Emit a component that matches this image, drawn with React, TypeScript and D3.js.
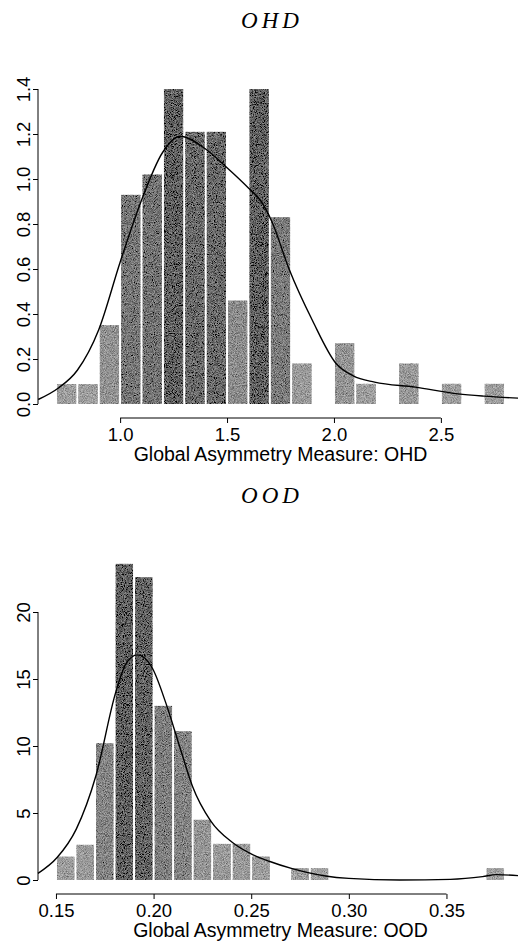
import { useEffect, useRef } from 'react';
import * as d3 from 'd3';

// OHD histogram: lower bin edges (width 0.1) and density heights
const ohdBins = [0.7, 0.8, 0.9, 1.0, 1.1, 1.2, 1.3, 1.4, 1.5, 1.6, 1.7, 1.8, 1.9, 2.0, 2.1, 2.2, 2.3, 2.4, 2.5, 2.6, 2.7];
const ohdDensity = [0.088, 0.088, 0.35, 0.93, 1.02, 1.4, 1.21, 1.21, 0.46, 1.4, 0.83, 0.18, 0, 0.27, 0.09, 0, 0.18, 0, 0.09, 0, 0.09];
// OHD density curve
const ohdCurveX = [0.617, 0.71, 0.8, 0.9, 1.0, 1.09, 1.2, 1.28, 1.39, 1.5, 1.6, 1.66, 1.71, 1.79, 1.9, 2.01, 2.09, 2.19, 2.38, 2.58, 2.7, 2.884];
const ohdCurveY = [0.02, 0.07, 0.15, 0.33, 0.63, 0.88, 1.12, 1.19, 1.14, 1.05, 0.96, 0.9, 0.81, 0.6, 0.37, 0.18, 0.125, 0.097, 0.075, 0.045, 0.035, 0.025];
const ohdTicksX = [1.0, 1.5, 2.0, 2.5];
const ohdTicksY = [0, 0.2, 0.4, 0.6, 0.8, 1.0, 1.2, 1.4];

// OOD histogram: lower bin edges (width 0.01) and density heights
const oodBins = [0.15, 0.16, 0.17, 0.18, 0.19, 0.2, 0.21, 0.22, 0.23, 0.24, 0.25, 0.26, 0.27, 0.28, 0.29, 0.3, 0.31, 0.32, 0.33, 0.34, 0.35, 0.36, 0.37];
const oodDensity = [1.75, 2.63, 10.2, 23.6, 22.6, 13.0, 11.1, 4.5, 2.7, 2.7, 1.75, 0, 0.88, 0.88, 0, 0, 0, 0, 0, 0, 0, 0, 0.88];
// OOD density curve
const oodCurveX = [0.1408, 0.1507, 0.1604, 0.1705, 0.1806, 0.1857, 0.1917, 0.1994, 0.2063, 0.2139, 0.2199, 0.2293, 0.2404, 0.2507, 0.2592, 0.271, 0.288, 0.3, 0.326, 0.352, 0.3685, 0.3756, 0.3892];
const oodCurveY = [0.5, 1.7, 3.8, 7.8, 14.0, 16.1, 16.8, 15.8, 13.2, 9.7, 7.0, 4.4, 2.8, 1.9, 1.4, 0.85, 0.3, 0.12, 0.0, 0.05, 0.25, 0.4, 0.3];
const oodTicksX = [0.15, 0.2, 0.25, 0.3, 0.35];
const oodTicksY = [0, 5, 10, 15, 20];

const sans = '"Liberation Sans", Arial, Helvetica, sans-serif';

interface Panel {
  title: string;
  xLabel: string;
  bins: number[];
  density: number[];
  binWidth: number;
  curveX: number[];
  curveY: number[];
  ticksX: number[];
  ticksY: number[];
  fmtX: (v: number) => string;
  fmtY: (v: number) => string;
  xDomain: [number, number];
  yDomain: [number, number];
  yRange: [number, number];
  axisY: number;
  titleY: number;
}

const panels: Panel[] = [
  {
    title: 'OHD', xLabel: 'Global Asymmetry Measure: OHD',
    bins: ohdBins, density: ohdDensity, binWidth: 0.1,
    curveX: ohdCurveX, curveY: ohdCurveY,
    ticksX: ohdTicksX, ticksY: ohdTicksY,
    fmtX: d3.format('.1f'), fmtY: d3.format('.1f'),
    xDomain: [0.616, 2.884], yDomain: [0, 1.4], yRange: [404, 89],
    axisY: 418, titleY: 28,
  },
  {
    title: 'OOD', xLabel: 'Global Asymmetry Measure: OOD',
    bins: oodBins, density: oodDensity, binWidth: 0.01,
    curveX: oodCurveX, curveY: oodCurveY,
    ticksX: oodTicksX, ticksY: oodTicksY,
    fmtX: d3.format('.2f'), fmtY: d3.format('d'),
    xDomain: [0.1408, 0.3892], yDomain: [0, 20], yRange: [880, 612],
    axisY: 894, titleY: 503,
  },
];

export default function App() {
  const svgRef = useRef<SVGSVGElement>(null);

  useEffect(() => {
    if (!svgRef.current) return;
    const svg = d3.select(svgRef.current);
    svg.selectAll('*').remove();

    // fine grain for the printed-halftone look of the bars
    const defs = svg.append('defs');
    const f = defs.append('filter')
      .attr('id', 'grain')
      .attr('filterUnits', 'userSpaceOnUse')
      .attr('x', 0).attr('y', 0).attr('width', 518).attr('height', 943);
    f.append('feTurbulence')
      .attr('type', 'fractalNoise')
      .attr('baseFrequency', 1.1)
      .attr('numOctaves', 2)
      .attr('seed', 5)
      .attr('result', 'noise');
    f.append('feColorMatrix')
      .attr('in', 'noise')
      .attr('type', 'matrix')
      .attr('values', '1 0 0 0 0  1 0 0 0 0  1 0 0 0 0  0 0 0 0 1')
      .attr('result', 'g');
    f.append('feComposite')
      .attr('in', 'SourceGraphic').attr('in2', 'g')
      .attr('operator', 'arithmetic')
      .attr('k1', 0).attr('k2', 1).attr('k3', 0.65).attr('k4', -0.325)
      .attr('result', 'm');
    f.append('feComposite')
      .attr('in', 'm').attr('in2', 'SourceGraphic')
      .attr('operator', 'in');

    panels.forEach(p => {
      const x = d3.scaleLinear().domain(p.xDomain).range([38, 523]);
      const y = d3.scaleLinear().domain(p.yDomain).range(p.yRange);
      const maxD = d3.max(p.density) ?? 1;
      const shade = d3.scaleLinear<string>().domain([0, maxD]).range(['#a2a2a2', '#606060']);

      const g = svg.append('g');

      // title
      g.append('text')
        .attr('x', 272)
        .attr('y', p.titleY)
        .attr('text-anchor', 'middle')
        .attr('font-family', '"Liberation Serif", "Times New Roman", serif')
        .attr('font-style', 'italic')
        .attr('font-size', 23)
        .attr('letter-spacing', 4)
        .text(p.title);

      // bars
      const bars = p.bins.map((b, i) => ({ x0: b, x1: b + p.binWidth, v: p.density[i] })).filter(d => d.v > 0);
      g.append('g')
        .attr('filter', 'url(#grain)')
        .selectAll('rect')
        .data(bars)
        .join('rect')
        .attr('x', d => x(d.x0) + 1)
        .attr('width', d => x(d.x1) - x(d.x0) - 2)
        .attr('y', d => y(d.v))
        .attr('height', d => y(0) - y(d.v))
        .attr('fill', d => shade(d.v));

      // density curve
      const line = d3.line<number>()
        .x((_, i) => x(p.curveX[i]))
        .y(d => y(d))
        .curve(d3.curveMonotoneX);
      g.append('path')
        .datum(p.curveY)
        .attr('fill', 'none')
        .attr('stroke', '#000')
        .attr('stroke-width', 1.4)
        .attr('d', line);

      // x axis (R style: line only between first and last tick)
      const xa = g.append('g').attr('transform', `translate(0,${p.axisY})`);
      xa.call(d3.axisBottom(x).tickValues(p.ticksX).tickFormat(v => p.fmtX(+v)).tickSize(5).tickSizeOuter(0));
      xa.select('.domain').remove();
      xa.append('line')
        .attr('x1', x(p.ticksX[0])).attr('x2', x(p.ticksX[p.ticksX.length - 1]))
        .attr('stroke', '#000');
      xa.selectAll('.tick text')
        .attr('font-family', sans)
        .attr('font-size', 18.5)
        .attr('fill', '#000')
        .attr('y', 23)
        .attr('dy', 0);
      xa.append('text')
        .attr('x', (38 + 523) / 2)
        .attr('y', 43)
        .attr('text-anchor', 'middle')
        .attr('font-family', sans)
        .attr('font-size', 19.5)
        .attr('fill', '#000')
        .text(p.xLabel);

      // y axis with rotated labels
      const ya = g.append('g').attr('transform', 'translate(38,0)');
      ya.call(d3.axisLeft(y).tickValues(p.ticksY).tickFormat(v => p.fmtY(+v)).tickSize(5).tickSizeOuter(0));
      ya.select('.domain').remove();
      ya.append('line')
        .attr('y1', y(p.ticksY[0])).attr('y2', y(p.ticksY[p.ticksY.length - 1]))
        .attr('stroke', '#000');
      ya.selectAll('.tick text')
        .attr('font-family', sans)
        .attr('font-size', 18.5)
        .attr('fill', '#000')
        .attr('transform', 'rotate(-90)')
        .attr('text-anchor', 'middle')
        .attr('x', 0)
        .attr('y', -8)
        .attr('dy', 0);
    });
  }, []);

  return (
    <svg
      ref={svgRef}
      width={518}
      height={943}
      style={{ position: 'absolute', left: 0, top: 0, background: '#fff', display: 'block' }}
    />
  );
}
